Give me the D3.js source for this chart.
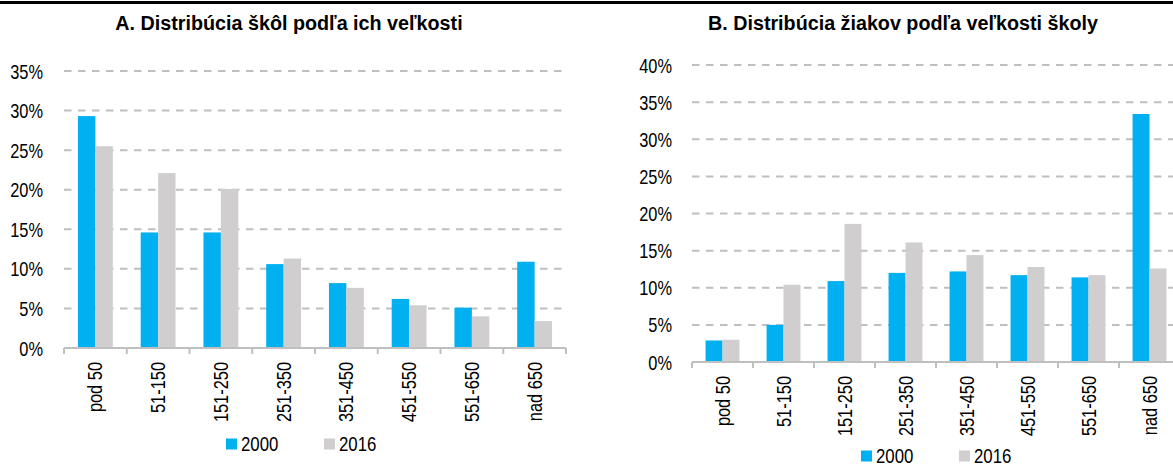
<!DOCTYPE html>
<html>
<head>
<meta charset="utf-8">
<script src="https://cdn.jsdelivr.net/npm/d3@7"></script>
<style>
  body { margin: 0; background: #fff; }
  svg text { font-family: "Liberation Sans", Arial, sans-serif; fill: #000; }
</style>
</head>
<body>
<div id="canvas"></div>
<script>
const categories = ["pod 50", "51-150", "151-250", "251-350", "351-450", "451-550", "551-650", "nad 650"];
const years = ["2000", "2016"];

// A. share of schools by size (%)
const schools2000 = [29.3, 14.6, 14.6, 10.6, 8.2, 6.2, 5.1, 10.9];
const schools2016 = [25.5, 22.1, 20.1, 11.3, 7.6, 5.4, 4.0, 3.4];

// B. share of pupils by school size (%)
const pupils2000 = [2.9, 5.0, 10.9, 12.0, 12.2, 11.7, 11.4, 33.4];
const pupils2016 = [3.0, 10.4, 18.6, 16.1, 14.4, 12.8, 11.7, 12.6];

const ticksA = [0, 5, 10, 15, 20, 25, 30, 35];
const ticksB = [0, 5, 10, 15, 20, 25, 30, 35, 40];

const colors = { "2000": "#00b0f0", "2016": "#d0cece" };
const gridColor = "#bfbfbf";

const W = 1173, H = 466;
const svg = d3.select("#canvas").append("svg").attr("width", W).attr("height", H);

// no narrow font installed -> squeeze text horizontally around its anchor
function squeeze(sel, k, pre) {
  sel.each(function () {
    const t = d3.select(this);
    const x = +t.attr("x") || 0, y = +t.attr("y") || 0;
    t.attr("transform", `${pre || ""} translate(${x},${y}) scale(${k},1) translate(${-x},${-y})`);
  });
}

// thick rule at the very top (cut-off page header)
svg.append("rect").attr("x", 0).attr("y", 1).attr("width", W).attr("height", 3).attr("fill", "#000");

function panel(opt) {
  const rows = categories.map((c, i) => ({ cat: c, "2000": opt.s2000[i], "2016": opt.s2016[i] }));
  const g = svg.append("g");

  const x = d3.scaleBand().domain(categories).range([opt.x0, opt.x1]).padding(0);
  const xi = d3.scaleBand().domain(years).range([0, x.bandwidth()]).paddingInner(0).paddingOuter(0.8);
  const y = d3.scaleLinear().domain([0, d3.max(opt.ticks)]).range([opt.y0, opt.yTop]);

  const title = g.append("text")
    .attr("x", opt.titleX).attr("y", 30)
    .attr("text-anchor", "middle")
    .style("font-size", "21px").style("font-weight", "bold")
    .text(opt.title);
  squeeze(title, 0.94);

  // dashed gridlines
  g.append("g").selectAll("line").data(opt.ticks.filter(t => t > 0)).enter().append("line")
    .attr("x1", opt.x0).attr("x2", opt.gridEnd)
    .attr("y1", d => y(d)).attr("y2", d => y(d))
    .attr("stroke", gridColor).attr("stroke-width", 2)
    .attr("stroke-dasharray", "7.5,6.5");

  // y labels
  const ya = g.append("g")
    .attr("transform", `translate(${opt.x0},0)`)
    .call(d3.axisLeft(y).tickValues(opt.ticks).tickSize(0).tickPadding(opt.x0 - opt.labelRight).tickFormat(d => d + "%"));
  ya.select(".domain").remove();
  ya.selectAll("text").style("font-size", "20px").attr("dy", "0.35em");
  squeeze(ya.selectAll("text"), 0.82);

  // bars
  years.forEach(yr => {
    g.append("g").selectAll("rect").data(rows).enter().append("rect")
      .attr("x", d => x(d.cat) + xi(yr))
      .attr("y", d => y(d[yr]))
      .attr("width", xi.bandwidth())
      .attr("height", d => opt.y0 - y(d[yr]))
      .attr("fill", colors[yr]);
  });

  // x axis line and ticks at band edges
  const edges = categories.map(c => x(c)).concat([opt.x1]);
  g.append("line").attr("x1", opt.x0).attr("x2", opt.x1).attr("y1", opt.y0).attr("y2", opt.y0)
    .attr("stroke", gridColor).attr("stroke-width", 2);
  g.append("g").selectAll("line").data(edges).enter().append("line")
    .attr("x1", d => d).attr("x2", d => d)
    .attr("y1", opt.y0).attr("y2", opt.y0 + 6)
    .attr("stroke", gridColor).attr("stroke-width", 2);

  const xa = g.append("g")
    .attr("transform", `translate(0,${opt.y0})`)
    .call(d3.axisBottom(x).tickSize(0));
  xa.select(".domain").remove();
  xa.selectAll("text")
    .attr("x", -14).attr("y", 0).attr("dy", "0.35em")
    .style("text-anchor", "end")
    .style("font-size", "20px");
  squeeze(xa.selectAll("text"), 0.82, "rotate(-90)");

  // legend
  const lg = g.append("g").attr("transform", `translate(${opt.legendX},${opt.legendY})`);
  years.forEach((yr, i) => {
    const it = lg.append("g").attr("transform", `translate(${i * 98},0)`);
    it.append("rect").attr("x", 0).attr("y", -5.5).attr("width", 11).attr("height", 11).attr("fill", colors[yr]);
    const t = it.append("text").attr("x", 15).attr("y", 0).attr("dy", "0.35em").style("font-size", "20.5px").text(yr);
    squeeze(t, 0.82);
  });
}

panel({
  title: "A. Distribúcia škôl podľa ich veľkosti",
  titleX: 289,
  s2000: schools2000, s2016: schools2016, ticks: ticksA,
  x0: 64, x1: 566, gridEnd: 563, y0: 348, yTop: 71, labelRight: 43,
  legendX: 226, legendY: 444
});

panel({
  title: "B. Distribúcia žiakov podľa veľkosti školy",
  titleX: 903,
  s2000: pupils2000, s2016: pupils2016, ticks: ticksB,
  x0: 692, x1: 1180, gridEnd: 1180, y0: 362, yTop: 65, labelRight: 672,
  legendX: 861, legendY: 456
});
</script>
</body>
</html>
